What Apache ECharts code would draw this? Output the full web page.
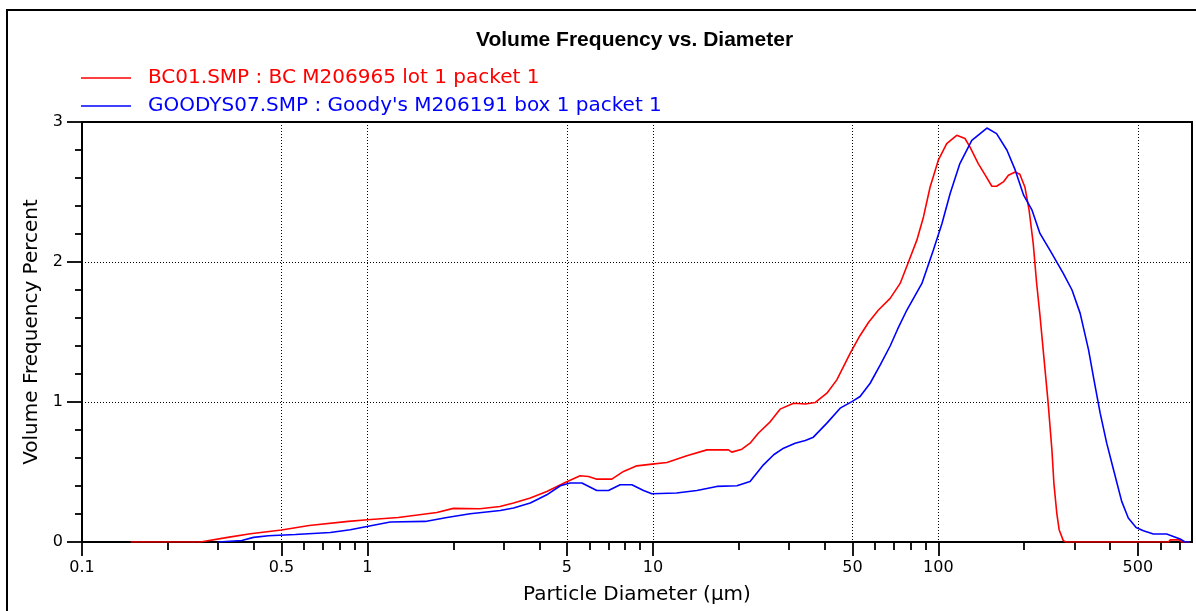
<!DOCTYPE html>
<html><head><meta charset="utf-8">
<script src="https://cdn.jsdelivr.net/npm/echarts@6/dist/echarts.min.js"></script>
<style>html,body{margin:0;padding:0;background:#fff}#c{width:1196px;height:611px}</style>
</head><body><div id="c"></div>
<script>
// BC01.SMP : particle diameter (µm) and volume frequency (%)
const redDiameter = [0.148, 0.26, 0.324, 0.389, 0.5, 0.625, 0.857, 1.0, 1.282, 1.75, 2.0, 2.48, 2.91, 3.25, 3.72, 4.25, 4.93, 5.56, 5.95, 6.36, 7.18, 7.89, 8.79, 9.92, 11.2, 13.15, 15.46, 18.4, 18.9, 20.5, 21.9, 23.4, 25.8, 27.9, 31.1, 34.2, 37.0, 40.7, 44.1, 49.1, 53, 57, 61.7, 67.8, 73.5, 78.6, 84.1, 88.7, 93.6, 100, 107, 116, 124, 129, 138, 146, 154, 160, 169, 176, 186, 193, 201, 208, 215, 221, 227, 233, 242, 250, 254, 260, 265, 274, 280, 640, 650, 700, 710, 760];
const redFreq = [0, 0, 0.033, 0.059, 0.086, 0.118, 0.147, 0.159, 0.175, 0.211, 0.24, 0.237, 0.254, 0.278, 0.314, 0.361, 0.425, 0.473, 0.468, 0.449, 0.449, 0.504, 0.544, 0.556, 0.568, 0.616, 0.658, 0.658, 0.642, 0.663, 0.706, 0.777, 0.86, 0.949, 0.991, 0.986, 0.996, 1.063, 1.158, 1.348, 1.47, 1.57, 1.657, 1.74, 1.847, 2.0, 2.156, 2.322, 2.536, 2.727, 2.846, 2.905, 2.882, 2.822, 2.703, 2.62, 2.541, 2.541, 2.572, 2.62, 2.643, 2.627, 2.536, 2.37, 2.133, 1.85, 1.62, 1.372, 1.015, 0.658, 0.421, 0.207, 0.088, 0.01, 0, 0, 0.015, 0.015, 0, 0];

// GOODYS07.SMP
const blueDiameter = [0.3, 0.363, 0.399, 0.45, 0.559, 0.741, 0.871, 0.996, 1.202, 1.594, 1.899, 2.29, 2.92, 3.25, 3.72, 4.25, 4.74, 5.13, 5.64, 6.36, 6.99, 7.68, 8.44, 9.27, 9.92, 12.1, 14.26, 16.75, 19.7, 21.9, 24.4, 26.5, 28.7, 31.5, 34.2, 36.5, 40.7, 45.3, 49.8, 53.2, 57.7, 62.6, 67.8, 72, 77.6, 87.6, 96.1, 103, 110, 119, 131, 148, 160, 174, 186, 199, 213, 227, 246, 274, 294, 314, 336, 351, 369, 389, 411, 439, 463, 493, 523, 567, 631, 666, 703, 732, 760];
const blueFreq = [0, 0.011, 0.033, 0.045, 0.054, 0.068, 0.088, 0.111, 0.143, 0.147, 0.175, 0.202, 0.225, 0.243, 0.278, 0.337, 0.402, 0.421, 0.421, 0.368, 0.368, 0.409, 0.409, 0.368, 0.345, 0.35, 0.368, 0.397, 0.402, 0.432, 0.551, 0.623, 0.67, 0.706, 0.725, 0.749, 0.849, 0.956, 1.003, 1.039, 1.134, 1.265, 1.40, 1.52, 1.657, 1.847, 2.085, 2.275, 2.489, 2.703, 2.869, 2.957, 2.917, 2.798, 2.656, 2.477, 2.37, 2.204, 2.085, 1.919, 1.80, 1.633, 1.372, 1.158, 0.92, 0.706, 0.516, 0.29, 0.171, 0.104, 0.081, 0.057, 0.057, 0.04, 0.021, 0, 0];

const seriesNames = ['BC01.SMP : BC M206965 lot 1 packet 1', "GOODYS07.SMP : Goody's M206191 box 1 packet 1"];
const seriesColors = ['#ff0000', '#0000ff'];
const majorTicks = [0.1, 0.5, 1, 5, 10, 50, 100, 500];
const minorTicks = [0.2, 0.3, 0.4, 0.6, 0.7, 0.8, 0.9, 2, 3, 4, 6, 7, 8, 9, 20, 30, 40, 60, 70, 80, 90, 200, 300, 400, 600, 700];

const font = 'DejaVu Sans';
const chart = echarts.init(document.getElementById('c'));
const fmt = v => String(parseFloat(Number(v).toPrecision(6)));

chart.setOption({
  animation: false,
  backgroundColor: '#fff',
  title: {
    text: 'Volume Frequency vs. Diameter', left: 476, top: 30, padding: 0,
    textStyle: { fontFamily: 'Liberation Sans', fontWeight: 'bold', fontSize: 21, color: '#000' }
  },
  legend: {
    orient: 'vertical', left: 81, top: 68, padding: 0, itemWidth: 50, itemHeight: 1.6, itemGap: 8,
    icon: 'rect', selectedMode: false,
    textStyle: { fontFamily: font, fontSize: 20, padding: [0, 0, 0, 12] },
    data: seriesNames.map((n, i) => ({ name: n, textStyle: { color: seriesColors[i] } }))
  },
  grid: { left: 82, right: 4, top: 122, bottom: 69, show: true, borderColor: '#000', borderWidth: 2 },
  xAxis: [{
    type: 'log', logBase: 10, min: 0.1, max: 774,
    axisLine: { show: true, onZero: false, lineStyle: { color: '#000', width: 2 } },
    axisTick: { show: true, inside: false, length: 14, customValues: majorTicks, lineStyle: { color: '#000', width: 1.8 } },
    axisLabel: { customValues: majorTicks, margin: 18, color: '#000', fontFamily: font, fontSize: 16, formatter: fmt },
    splitLine: { show: true, lineStyle: { color: '#000', width: 1, type: [1, 2] } },
    name: 'Particle Diameter (µm)', nameLocation: 'middle', nameGap: 43,
    nameTextStyle: { fontFamily: font, fontSize: 20, color: '#000' }
  }, {
    type: 'log', logBase: 10, min: 0.1, max: 774, position: 'bottom',
    axisLine: { show: false },
    axisTick: { show: true, inside: false, length: 8, customValues: minorTicks, lineStyle: { color: '#000', width: 1.8 } },
    axisLabel: { show: false },
    splitLine: { show: false }
  }],
  yAxis: {
    type: 'value', min: 0, max: 3, interval: 1,
    axisLine: { show: true, lineStyle: { color: '#000', width: 2 } },
    axisTick: { show: true, inside: false, length: 15, lineStyle: { color: '#000', width: 1.8 } },
    minorTick: { show: true, splitNumber: 5, length: 7, lineStyle: { color: '#000', width: 1.8 } },
    axisLabel: { margin: 19, color: '#000', fontFamily: font, fontSize: 16 },
    splitLine: { show: true, lineStyle: { color: '#000', width: 1, type: [1, 2] } },
    name: 'Volume Frequency Percent', nameLocation: 'middle', nameGap: 40, nameRotate: 90,
    nameTextStyle: { fontFamily: font, fontSize: 20, color: '#000' }
  },
  graphic: [{
    type: 'rect', silent: true, z: -10,
    shape: { x: 7, y: 10, width: 1200, height: 700 },
    style: { fill: 'none', stroke: '#000', lineWidth: 2 }
  }],
  series: [
    { type: 'line', name: seriesNames[0], xAxisIndex: 0, symbol: 'none', showSymbol: false,
      data: redDiameter.map((d, i) => [d, redFreq[i]]),
      lineStyle: { color: seriesColors[0], width: 1.6 }, itemStyle: { color: seriesColors[0] } },
    { type: 'line', name: seriesNames[1], xAxisIndex: 0, symbol: 'none', showSymbol: false,
      data: blueDiameter.map((d, i) => [d, blueFreq[i]]),
      lineStyle: { color: seriesColors[1], width: 1.6 }, itemStyle: { color: seriesColors[1] } }
  ]
});
</script>
</body></html>
